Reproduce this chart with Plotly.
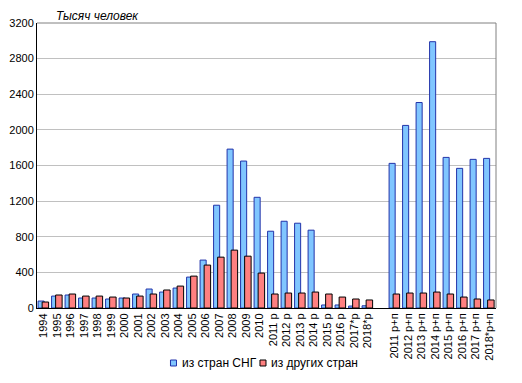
import plotly.graph_objects as go

categories = ["1994", "1995", "1996", "1997", "1998", "1999", "2000", "2001", "2002",
              "2003", "2004", "2005", "2006", "2007", "2008", "2009", "2010",
              "2011 р", "2012 р", "2013 р", "2014 р", "2015 р", "2016 р", "2017*р", "2018*р",
              " ",
              "2011 р+п", "2012 р+п", "2013 р+п", "2014 р+п", "2015 р+п", "2016 р+п",
              "2017 р+п", "2018*р+п"]

cis = [78, 134, 146, 112, 112, 101, 112, 157, 213,
       179, 224, 347, 538, 1154, 1784, 1650, 1243,
       862, 974, 952, 874, 34, 34, 22, 25,
       None,
       1624, 2050, 2307, 2990, 1691, 1568, 1669, 1680]

other = [67, 146, 157, 134, 134, 123, 112, 134, 157,
         202, 246, 358, 482, 571, 650, 582, 392,
         157, 168, 168, 179, 157, 123, 101, 90,
         None,
         157, 168, 168, 179, 157, 123, 101, 90]

y_ticks = [0, 400, 800, 1200, 1600, 2000, 2400, 2800, 3200]

series_names = ["из стран СНГ", "из других стран"]
fill_colors = ["#80C6FF", "#FF8080"]
edge_colors = ["#2233AA", "#000000"]

FONT = "Liberation Sans, Arial, sans-serif"

fig = go.Figure()
fig.add_trace(go.Bar(
    x=categories, y=cis, name=series_names[0],
    marker=dict(color=fill_colors[0], line=dict(color=edge_colors[0], width=1)),
    offset=-0.42, width=0.45,
))
fig.add_trace(go.Bar(
    x=categories, y=other, name=series_names[1],
    marker=dict(color=fill_colors[1], line=dict(color=edge_colors[1], width=1)),
    offset=-0.12, width=0.48,
))

# custom compact legend (squares + text)
legend_items = [(0.2908, 0.3039, 0.3105), (0.4858, 0.4989, 0.5055)]
shapes = [
    dict(type="line", xref="paper", yref="paper", x0=0, x1=1, y0=1, y1=1,
         line=dict(color="#808080", width=1)),
    dict(type="line", xref="paper", yref="paper", x0=1, x1=1, y0=0, y1=1,
         line=dict(color="#808080", width=1)),
]
annotations = [dict(text="<i>Тысяч человек</i>", xref="paper", yref="paper",
                    x=0.04, y=1.0 + 15 / 285, xanchor="left", yanchor="top",
                    borderpad=0, showarrow=False,
                    font=dict(family=FONT, size=12, color="black"))]
for (x0, x1, xt), name, fc, ec in zip(legend_items, series_names, fill_colors, edge_colors):
    shapes.append(dict(type="rect", xref="paper", yref="paper", x0=x0, x1=x1,
                       y0=-0.2035, y1=-0.1825, fillcolor=fc, line=dict(color=ec, width=1)))
    annotations.append(dict(text=name, xref="paper", yref="paper", x=xt, y=-0.194,
                            xanchor="left", yanchor="middle", showarrow=False,
                            font=dict(family=FONT, size=12, color="black")))

# page has an 8px body margin, so the figure is drawn 8px in from the window edge
fig.update_layout(
    width=514, height=375,
    margin=dict(l=29, r=26, t=15, b=75),
    paper_bgcolor="white", plot_bgcolor="white",
    barmode="overlay",
    font=dict(family=FONT, size=11, color="black"),
    showlegend=False,
    xaxis=dict(type="category", categoryorder="array", categoryarray=categories,
               range=[-0.5, len(categories) - 0.5], automargin=False,
               tickangle=-90, tickfont=dict(family=FONT, size=11, color="black"),
               showline=True, linecolor="black", linewidth=1,
               showgrid=False, ticks="", fixedrange=True),
    yaxis=dict(range=[0, 3200], tickvals=y_ticks, automargin=False,
               ticktext=[str(v) for v in y_ticks],
               tickfont=dict(family=FONT, size=11, color="black"),
               showgrid=True, gridcolor="#C0C0C0", gridwidth=1,
               showline=True, linecolor="black", linewidth=1,
               zeroline=False, ticks="", ticklen=4),
    annotations=annotations,
    shapes=shapes,
)

fig.write_html("out.html")
